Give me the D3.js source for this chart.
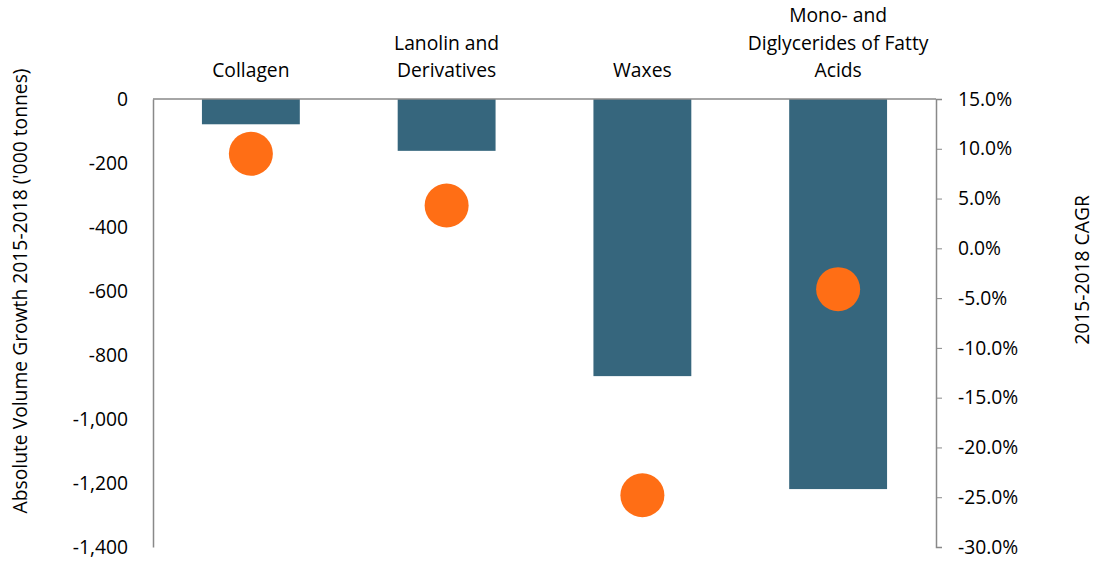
<!DOCTYPE html>
<html><head><meta charset="utf-8">
<script src="https://cdn.jsdelivr.net/npm/d3@7"></script>
<style>body{margin:0;background:#fff}svg{display:block}text{font-family:"Open Sans",Lato,sans-serif;fill:#000}</style>
</head><body>
<svg id="c" width="1096" height="562"></svg>
<script>
const categories = ["Collagen", "Lanolin and Derivatives", "Waxes", "Mono- and Diglycerides of Fatty Acids"];
const categoryLines = [["Collagen"], ["Lanolin and", "Derivatives"], ["Waxes"], ["Mono- and", "Diglycerides of Fatty", "Acids"]];
const volumeGrowth = [-79, -162, -866, -1219];
const cagr = [9.5, 4.3, -24.8, -4.1];
const leftTicks = [0, -200, -400, -600, -800, -1000, -1200, -1400];
const rightTicks = [15, 10, 5, 0, -5, -10, -15, -20, -25, -30];
const leftTitle = "Absolute Volume Growth 2015-2018 ('000 tonnes)";
const rightTitle = "2015-2018 CAGR";

const svg = d3.select("#c");
const L = 153, R = 936, T = 99, B = 547;
const x = d3.scaleBand().domain(categories).range([L, R]).paddingInner(0.5).paddingOuter(0.25);
const yL = d3.scaleLinear().domain([-1400, 0]).range([B, T]);
const yR = d3.scaleLinear().domain([-30, 15]).range([B, T]);
const axisColor = "#898989";
const fs = 19.3;
const ff = "Open Sans";
const hy = s => s.replace(/\u2212/g, "-");

// bars
svg.selectAll("rect.bar").data(categories).join("rect")
  .attr("x", d => x(d)).attr("width", x.bandwidth())
  .attr("y", (d, i) => yL(0)).attr("height", (d, i) => yL(volumeGrowth[i]) - yL(0))
  .attr("fill", "#36667D");

// top category axis line (zero line)
svg.append("line").attr("x1", L).attr("x2", R).attr("y1", yL(0)).attr("y2", yL(0))
  .attr("stroke", axisColor).attr("stroke-width", 1.5);

// left axis
const gL = svg.append("g").attr("transform", `translate(${L},0)`)
  .call(d3.axisLeft(yL).tickValues(leftTicks).tickSize(0).tickPadding(25).tickFormat(d => hy(d3.format(",")(d))));
gL.select(".domain").attr("stroke", axisColor).attr("stroke-width", 1.5);
gL.selectAll("text").attr("font-size", fs).attr("font-family", ff).style("fill", "#000");

// right axis
const gR = svg.append("g").attr("transform", `translate(${R},0)`)
  .call(d3.axisRight(yR).tickValues(rightTicks).tickSize(6).tickPadding(16).tickFormat(d => hy(d3.format(".1f")(d)) + "%"));
gR.select(".domain").attr("stroke", axisColor).attr("stroke-width", 1.5);
gR.selectAll(".tick line").attr("stroke", axisColor).attr("stroke-width", 1);
gR.selectAll("text").attr("font-size", fs).attr("font-family", ff).style("fill", "#000");

// dots
svg.selectAll("circle.dot").data(categories).join("circle")
  .attr("cx", d => x(d) + x.bandwidth() / 2)
  .attr("cy", (d, i) => yR(cagr[i]))
  .attr("r", 22).attr("fill", "#FF6E15");

// category labels at top
const lh = 27.5;
categories.forEach((c, i) => {
  const lines = categoryLines[i];
  const t = svg.append("text").attr("text-anchor", "middle").attr("font-size", fs);
  lines.forEach((ln, j) => {
    t.append("tspan").attr("x", x(c) + x.bandwidth() / 2)
      .attr("y", 77 - (lines.length - 1 - j) * lh).text(ln);
  });
});

// axis titles
svg.append("text").attr("transform", `translate(27,291) rotate(-90)`)
  .attr("text-anchor", "middle").attr("font-size", fs).text(leftTitle);
svg.append("text").attr("transform", `translate(1089,270) rotate(-90)`)
  .attr("text-anchor", "middle").attr("font-size", fs).text(rightTitle);
</script>
</body></html>
